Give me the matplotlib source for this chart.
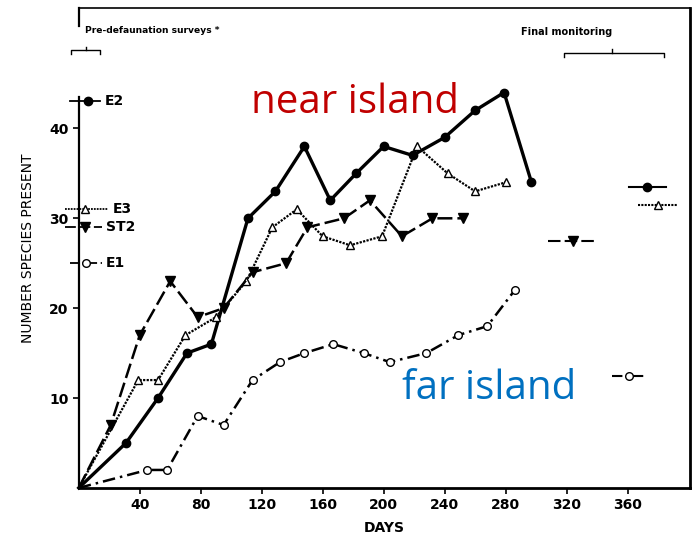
import matplotlib
matplotlib.use("Agg")
import matplotlib.pyplot as plt

# 主要資料 (天數, 物種數)
e2_days = [0, 31, 52, 71, 87, 111, 129, 148, 165, 182, 200, 219, 240, 260, 279, 297]
e2_vals = [0, 5, 10, 15, 16, 30, 33, 38, 32, 35, 38, 37, 39, 42, 44, 34]

e3_days = [0, 39, 52, 70, 90, 110, 127, 143, 160, 178, 199, 222, 242, 260, 280]
e3_vals = [0, 12, 12, 17, 19, 23, 29, 31, 28, 27, 28, 38, 35, 33, 34]

st2_days = [0, 21, 40, 60, 78, 95, 114, 136, 150, 174, 191, 212, 232, 252]
st2_vals = [0, 7, 17, 23, 19, 20, 24, 25, 29, 30, 32, 28, 30, 30]

e1_days = [0, 45, 58, 78, 95, 114, 132, 148, 167, 187, 204, 228, 249, 268, 286]
e1_vals = [0, 2, 2, 8, 7, 12, 14, 15, 16, 15, 14, 15, 17, 18, 22]

# 去除動物前的調查值
pre_names = ["E2", "E3", "ST2", "E1"]
pre_vals = [43, 31, 29, 25]

# 最終監測值 (中心天數, 物種數)
final_days = [373, 380, 324, 361]
final_vals = [33.5, 31.5, 27.5, 12.5]

x_ticks = [40, 80, 120, 160, 200, 240, 280, 320, 360]
y_ticks = [10, 20, 30, 40]

fig = plt.figure(figsize=(6.97, 5.35), dpi=100)
ax = fig.add_axes([0.113, 0.088, 0.877, 0.897])
ax.set_xlim(0, 401)
ax.set_ylim(0, 53.4)

styles = {
    "E2": dict(color="k", lw=2.4, ls="-", marker="o", ms=6, mfc="k"),
    "E3": dict(color="k", lw=1.6, ls=(0, (1, 0.6)), marker="^", ms=6, mfc="white"),
    "ST2": dict(color="k", lw=1.8, ls=(0, (6, 2)), marker="v", ms=7, mfc="k"),
    "E1": dict(color="k", lw=1.8, ls=(0, (5, 2, 1, 2)), marker="o", ms=5.5, mfc="white"),
}

for name, d, v in [("E2", e2_days, e2_vals), ("E3", e3_days, e3_vals),
                   ("ST2", st2_days, st2_vals), ("E1", e1_days, e1_vals)]:
    ax.plot(d, v, clip_on=False, markevery=list(range(1, len(d))), **styles[name])

# 去除前調查的短橫線與標籤
pre_spans = [(-6, 14), (-9, 19), (-9, 15), (-6, 15)]
pre_marks = [6, 4, 4, 5]
for name, v, (a, b), m in zip(pre_names, pre_vals, pre_spans, pre_marks):
    st = styles[name]
    ax.plot([a, b], [v, v], color="k", lw=1.3, ls=st["ls"], clip_on=False)
    ax.plot([m], [v], marker=st["marker"], ms=st["ms"], mfc=st["mfc"],
            color="k", clip_on=False)
    ax.text(b + 3, v, name, fontsize=10, fontweight="bold", va="center",
            family="DejaVu Sans")

# 最終監測的短橫線
final_half = [12, 13, 16, 11]
for name, d, v, h in zip(pre_names, final_days, final_vals, final_half):
    st = styles[name]
    ax.plot([d - h, d + h], [v, v], color="k", lw=1.5, ls=st["ls"])
    ax.plot([d], [v], marker=st["marker"], ms=st["ms"], mfc=st["mfc"], color="k")

# 左軸 (中間斷開)
ax.spines["left"].set_visible(False)
ax.plot([0, 0], [0, 43.5], color="k", lw=1.6, clip_on=False)
ax.plot([0, 0], [51.4, 53.4], color="k", lw=1.6, clip_on=False)
for s in ["bottom", "right"]:
    ax.spines[s].set_linewidth(2.0)
ax.spines["top"].set_linewidth(1.2)

# 括號
ax.plot([-5, -5, 14, 14], [48.3, 48.7, 48.7, 48.3], color="k", lw=1, clip_on=False)
ax.plot([4.5, 4.5], [48.7, 49.1], color="k", lw=1, clip_on=False)
ax.text(4, 50.9, "Pre-defaunation surveys *", fontsize=6.6, fontweight="bold",
        va="center", ha="left", family="DejaVu Sans")
ax.plot([318, 318, 384, 384], [48.0, 48.4, 48.4, 48.0], color="k", lw=1)
ax.plot([350, 350], [48.4, 48.8], color="k", lw=1)
ax.text(290, 50.7, "Final monitoring", fontsize=7, fontweight="bold",
        va="center", ha="left", family="DejaVu Sans")

ax.set_xticks(x_ticks)
ax.set_yticks(y_ticks)
ax.tick_params(axis="both", direction="out", length=4, width=1.2,
               labelsize=10)
for lab in ax.get_xticklabels() + ax.get_yticklabels():
    lab.set_fontweight("bold")
ax.set_xlabel("DAYS", fontsize=10, fontweight="bold", labelpad=6)
ax.set_ylabel("NUMBER SPECIES PRESENT", fontsize=10, labelpad=10)

ax.text(181, 42.9, "near island", fontsize=29, color="#c00000",
        va="center", ha="center", family="Open Sans")
ax.text(269, 11.0, "far island", fontsize=29, color="#0070c0",
        va="center", ha="center", family="Open Sans")

fig.savefig("out.png", dpi=100)
